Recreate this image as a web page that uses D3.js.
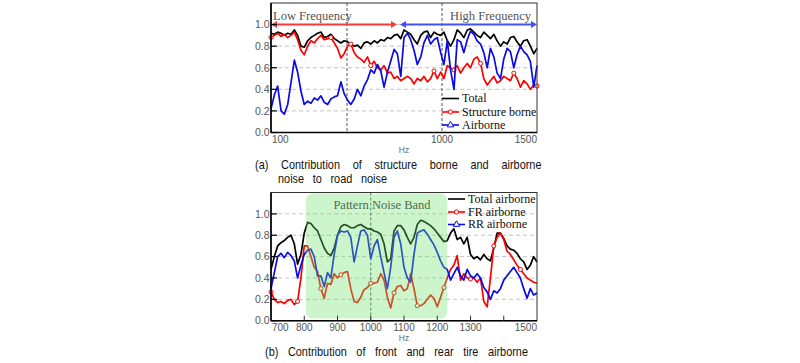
<!DOCTYPE html>
<html>
<head>
<meta charset="utf-8">
<script src="https://cdn.jsdelivr.net/npm/d3@7"></script>
<style>
  body { margin: 0; background: #fff; }
  svg { display: block; }
</style>
</head>
<body>
<svg id="chart" width="800" height="363"></svg>
<script>
// ---- data (a): structure borne vs airborne, 100-1500 Hz ----
var freqA = [100,118,135,153,170,188,205,223,240,258,275,293,310,328,345,363,380,398,415,433,
  450,468,485,503,520,538,555,573,590,608,625,643,660,678,695,713,730,748,765,783,
  800,818,835,853,870,888,905,923,940,958,975,993,1010,1028,1045,1063,1080,1098,1115,1133,
  1150,1168,1185,1203,1220,1238,1255,1273,1290,1308,1325,1343,1360,1378,1395,1413,1430,1448,1465,1483,1500];
var totalA = [0.92,0.91,0.93,0.92,0.90,0.92,0.91,0.95,0.90,0.80,
  0.79,0.85,0.88,0.90,0.92,0.93,0.88,0.89,0.91,0.87,
  0.85,0.83,0.85,0.84,0.82,0.80,0.81,0.78,0.83,0.84,
  0.82,0.85,0.83,0.86,0.85,0.88,0.87,0.90,0.91,0.87,
  0.95,0.93,0.91,0.86,0.82,0.90,0.93,0.94,0.88,0.93,
  0.91,0.90,0.93,0.85,0.80,0.86,0.95,0.92,0.88,0.95,
  0.96,0.93,0.90,0.88,0.93,0.90,0.87,0.91,0.85,0.80,
  0.84,0.82,0.88,0.89,0.84,0.80,0.85,0.86,0.80,0.73,0.78];
var structA = [0.88,0.90,0.92,0.89,0.91,0.88,0.90,0.93,0.86,0.76,
  0.72,0.80,0.85,0.83,0.87,0.90,0.86,0.87,0.88,0.83,
  0.78,0.69,0.73,0.80,0.82,0.74,0.70,0.68,0.65,0.70,
  0.62,0.66,0.60,0.58,0.62,0.55,0.56,0.50,0.52,0.48,
  0.50,0.52,0.50,0.45,0.50,0.48,0.52,0.47,0.50,0.57,
  0.50,0.56,0.50,0.62,0.60,0.58,0.62,0.55,0.60,0.64,
  0.60,0.68,0.70,0.64,0.50,0.44,0.48,0.52,0.46,0.48,
  0.52,0.50,0.48,0.55,0.50,0.42,0.48,0.45,0.40,0.44,0.43];
var airA = [0.22,0.35,0.43,0.20,0.17,0.26,0.46,0.67,0.56,0.38,
  0.26,0.29,0.27,0.32,0.30,0.34,0.28,0.26,0.31,0.33,
  0.34,0.47,0.36,0.30,0.26,0.31,0.40,0.34,0.43,0.49,
  0.58,0.55,0.63,0.57,0.42,0.56,0.66,0.77,0.73,0.52,
  0.88,0.92,0.86,0.76,0.63,0.70,0.83,0.90,0.82,0.86,
  0.88,0.74,0.63,0.85,0.58,0.40,0.86,0.84,0.74,0.86,
  0.94,0.91,0.85,0.82,0.74,0.60,0.78,0.70,0.55,0.50,
  0.68,0.78,0.75,0.60,0.72,0.80,0.75,0.72,0.66,0.42,0.62];
var markIdxA = [0,18,24,30,49,55,63,73,80];

// ---- data (b): front vs rear tire airborne, 700-1500 Hz ----
var freqB = [700,710,720,730,740,750,760,770,780,790,800,810,820,830,840,850,860,870,880,890,
  900,910,920,930,940,950,960,970,980,990,1000,1010,1020,1030,1040,1050,1060,1070,1080,1090,
  1100,1110,1120,1130,1140,1150,1160,1170,1180,1190,1200,1210,1220,1230,1240,1250,1260,1270,1280,1290,
  1300,1310,1320,1330,1340,1350,1360,1370,1380,1390,1400,1410,1420,1430,1440,1450,1460,1470,1480,1490,1500];
var totalB = [0.48,0.60,0.70,0.73,0.75,0.78,0.80,0.72,0.53,0.62,
  0.82,0.92,0.91,0.87,0.84,0.76,0.68,0.63,0.61,0.68,
  0.80,0.88,0.90,0.89,0.87,0.87,0.89,0.90,0.88,0.86,
  0.86,0.84,0.83,0.81,0.72,0.55,0.58,0.84,0.89,0.89,
  0.85,0.78,0.72,0.78,0.90,0.94,0.93,0.91,0.89,0.86,
  0.82,0.78,0.74,0.75,0.82,0.86,0.76,0.78,0.72,0.78,
  0.62,0.58,0.60,0.57,0.62,0.58,0.56,0.68,0.82,0.82,
  0.77,0.70,0.67,0.66,0.63,0.58,0.55,0.48,0.52,0.60,0.55];
var frB = [0.27,0.20,0.17,0.18,0.16,0.19,0.20,0.15,0.18,0.40,
  0.70,0.70,0.60,0.50,0.46,0.30,0.21,0.35,0.34,0.44,
  0.40,0.43,0.45,0.46,0.30,0.18,0.17,0.22,0.29,0.31,
  0.35,0.35,0.36,0.44,0.38,0.22,0.12,0.26,0.32,0.33,
  0.28,0.30,0.44,0.30,0.14,0.14,0.16,0.20,0.24,0.21,
  0.13,0.22,0.31,0.40,0.48,0.52,0.61,0.38,0.44,0.40,
  0.39,0.40,0.36,0.40,0.18,0.13,0.40,0.70,0.78,0.82,
  0.76,0.65,0.62,0.57,0.52,0.48,0.44,0.40,0.38,0.36,0.35];
var rrB = [0.30,0.45,0.60,0.63,0.59,0.64,0.61,0.56,0.40,0.52,
  0.62,0.66,0.67,0.60,0.42,0.42,0.32,0.45,0.40,0.62,
  0.80,0.84,0.83,0.84,0.78,0.55,0.70,0.84,0.85,0.80,
  0.58,0.70,0.76,0.60,0.45,0.30,0.50,0.78,0.84,0.72,
  0.50,0.40,0.36,0.62,0.82,0.84,0.85,0.81,0.76,0.71,
  0.64,0.56,0.50,0.48,0.38,0.44,0.50,0.42,0.38,0.48,
  0.42,0.40,0.44,0.40,0.31,0.27,0.20,0.28,0.26,0.30,
  0.38,0.42,0.46,0.50,0.45,0.40,0.30,0.21,0.30,0.24,0.26];
var markIdxB = [0,8,15,21,30,37,44,52,60,67,75];

var yTicks = [0, 0.2, 0.4, 0.6, 0.8, 1.0];

var SERIF = "'Liberation Serif', 'Times New Roman', serif";
var SANS = "'Liberation Sans', Arial, sans-serif";
var RED = "#ff0000", BLUE = "#0a0ae6";

var svg = d3.select("#chart");

function drawPanel(p) {
  var x = d3.scaleLinear().domain(p.xDomain).range([271, 537]);
  var y = d3.scaleLinear().domain([0, 1.2]).range([p.bottom, p.top]);
  var g = svg.append("g");

  // horizontal dashed grid
  g.selectAll(".grid").data(yTicks.slice(1)).join("line")
    .attr("x1", x.range()[0]).attr("x2", x.range()[1])
    .attr("y1", d => y(d)).attr("y2", d => y(d))
    .style("stroke", "#c4c4c4").style("stroke-dasharray", "4,3");

  // vertical dashed markers
  g.selectAll(".vline").data(p.vlines).join("line")
    .attr("x1", d => x(d)).attr("x2", d => x(d))
    .attr("y1", p.top).attr("y2", p.bottom)
    .style("stroke", "#555").style("stroke-dasharray", "3,2");

  var line = d3.line().x(d => x(d[0])).y(d => y(d[1]));

  p.series.forEach(function(s) {
    var pts = d3.zip(p.freq, s.values);
    g.append("path").datum(pts)
      .attr("d", line)
      .style("fill", "none").style("stroke", s.color)
      .style("stroke-width", 1.7).style("stroke-linejoin", "round");
    if (s.marker) {
      var sym = d3.symbol().type(d3.symbolCircle).size(13);
      g.selectAll(null).data(s.marks.map(i => pts[i])).join("path")
        .attr("transform", d => "translate(" + x(d[0]) + "," + y(d[1]) + ")")
        .attr("d", sym)
        .style("fill", "#fff").style("stroke", s.color).style("stroke-width", 1);
    }
  });

  if (p.after) p.after(g, x, y);

  // frame
  g.append("rect")
    .attr("x", 271).attr("y", p.top).attr("width", 266).attr("height", p.bottom - p.top)
    .style("fill", "none").style("stroke", "#333").style("stroke-width", 1);
  g.append("line").attr("x1", 271).attr("x2", 271).attr("y1", p.top).attr("y2", p.bottom)
    .style("stroke", "#000").style("stroke-width", 1.6);
  g.append("line").attr("x1", 271).attr("x2", 537).attr("y1", p.bottom).attr("y2", p.bottom)
    .style("stroke", "#000").style("stroke-width", 1.6);

  // y ticks (inside) + labels
  g.selectAll(".ytick").data(yTicks).join("line")
    .attr("x1", 271).attr("x2", 277)
    .attr("y1", d => y(d)).attr("y2", d => y(d))
    .style("stroke", "#000").style("stroke-width", 1.2);
  g.selectAll(".ylab").data(yTicks).join("text")
    .attr("x", 269.5).attr("y", d => y(d)).attr("dy", "0.36em")
    .attr("text-anchor", "end")
    .style("font-family", SANS).style("font-size", "10.5px").style("fill", "#555")
    .text(d => d.toFixed(1));

  // x ticks (inside)
  g.selectAll(".xtick").data(p.xTicks).join("line")
    .attr("x1", d => x(d)).attr("x2", d => x(d))
    .attr("y1", p.bottom).attr("y2", p.bottom - 5)
    .style("stroke", "#333").style("stroke-width", 1);

  // x labels
  var last = p.xLabels.length - 1;
  g.selectAll(".xlab").data(p.xLabels).join("text")
    .attr("x", (d, i) => i == 0 ? 272 : i == last ? 537 : x(d))
    .attr("y", p.bottom + 10.5)
    .attr("text-anchor", (d, i) => i == 0 ? "start" : i == last ? "end" : "middle")
    .style("font-family", SANS).style("font-size", "10px").style("fill", "#555")
    .text(d => d);

  g.append("text")
    .attr("x", 404).attr("y", p.bottom + 20.5)
    .attr("text-anchor", "middle")
    .style("font-family", SANS).style("font-size", "8.5px").style("fill", "#666")
    .text("Hz");

  // legend
  p.legend.items.forEach(function(it, i) {
    var ly = p.legend.y[i];
    var lx0 = p.legend.x, lx1 = p.legend.x + 17;
    g.append("line").attr("x1", lx0).attr("x2", lx1).attr("y1", ly).attr("y2", ly)
      .style("stroke", it.color).style("stroke-width", 1.6);
    if (it.marker) {
      var sym = d3.symbol().type(it.marker == "circle" ? d3.symbolCircle : d3.symbolTriangle).size(it.marker == "circle" ? 14 : 18);
      g.append("path").attr("transform", "translate(" + (lx0 + 8.5) + "," + ly + ")")
        .attr("d", sym).style("fill", "#fff").style("stroke", it.color);
    }
    g.append("text").attr("x", lx1 + 3).attr("y", ly).attr("dy", "0.33em")
      .style("font-family", SERIF).style("font-size", "12px").style("fill", "#111")
      .text(it.label);
  });
  return { x: x, y: y };
}

// ---------- panel (a) ----------
drawPanel({
  top: 3, bottom: 132.5,
  xDomain: [100, 1500], freq: freqA,
  vlines: [500, 1000], xTicks: [], xLabels: [100, 1000, 1500],
  series: [
    { values: totalA, color: "#000" },
    { values: structA, color: RED, marker: "circle", marks: markIdxA },
    { values: airA, color: BLUE }
  ],
  legend: { x: 442, y: [98.5, 112, 125],
    items: [ { label: "Total", color: "#000" },
             { label: "Structure borne", color: RED, marker: "circle" },
             { label: "Airborne", color: BLUE, marker: "triangle" } ] },
  after: function(g, x, y) {
    var ay = y(1.0);
    function arrow(x0, x1, color) {
      g.append("line").attr("x1", x0 + 5).attr("x2", x1 - 5).attr("y1", ay).attr("y2", ay)
        .style("stroke", color).style("stroke-width", 2);
      g.append("path").attr("d", "M" + x0 + "," + ay + "l6,-3.5v7z").style("fill", color);
      g.append("path").attr("d", "M" + x1 + "," + ay + "l-6,-3.5v7z").style("fill", color);
    }
    arrow(x(100), 397, "#f23c3c");
    arrow(400, x(1500), "#4650f0");
    g.append("text").attr("x", 273).attr("y", 20)
      .style("font-family", SERIF).style("font-size", "12.5px").style("fill", "#555")
      .text("Low Frequency");
    g.append("text").attr("x", 531).attr("y", 20).attr("text-anchor", "end")
      .style("font-family", SERIF).style("font-size", "12.5px").style("fill", "#555")
      .text("High Frequency");
  }
});

// ---------- panel (b) ----------
drawPanel({
  top: 192.5, bottom: 320.7,
  xDomain: [700, 1500], freq: freqB,
  vlines: [1000], xTicks: [800, 900, 1000, 1100, 1200, 1300, 1400],
  xLabels: [700, 800, 900, 1000, 1100, 1200, 1300, 1500],
  series: [
    { values: totalB, color: "#000" },
    { values: frB, color: RED, marker: "circle", marks: markIdxB },
    { values: rrB, color: BLUE }
  ],
  legend: { x: 448, y: [199, 212, 224.5],
    items: [ { label: "Total airborne", color: "#000" },
             { label: "FR airborne", color: RED, marker: "circle" },
             { label: "RR airborne", color: BLUE, marker: "triangle" } ] },
  after: function(g, x, y) {
    g.append("rect")
      .attr("x", x(805)).attr("y", 193.5)
      .attr("width", x(1230) - x(805)).attr("height", 125)
      .attr("rx", 7)
      .style("fill", "rgb(110,225,110)").style("opacity", 0.35);
    g.append("text").attr("x", 382).attr("y", 205).attr("dy", "0.33em")
      .attr("text-anchor", "middle")
      .style("font-family", SERIF).style("font-size", "12.5px").style("fill", "#4d6b52")
      .text("Pattern Noise Band");
  }
});

// ---------- captions (narrow sans, justified) ----------
var CAP_SX = 0.84;
function caption(txt, x0, x1, yb, justify) {
  var t = svg.append("text")
    .attr("transform", "translate(" + x0 + "," + yb + ") scale(" + CAP_SX + ",1)")
    .style("font-family", SANS).style("font-size", "13px").style("fill", "#111")
    .text(txt);
  if (justify) {
    var n = txt.split(" ").length - 1;
    var w = t.node().getComputedTextLength();
    t.attr("word-spacing", Math.max(0, ((x1 - x0) / CAP_SX - w) / n));
  }
}
caption("(a) Contribution of structure borne and airborne", 255, 541.5, 169.3, true);
caption("noise to road noise", 278, 387, 183.3, true);
caption("(b) Contribution of front and rear tire airborne", 265, 528, 355.5, true);
</script>
</body>
</html>
